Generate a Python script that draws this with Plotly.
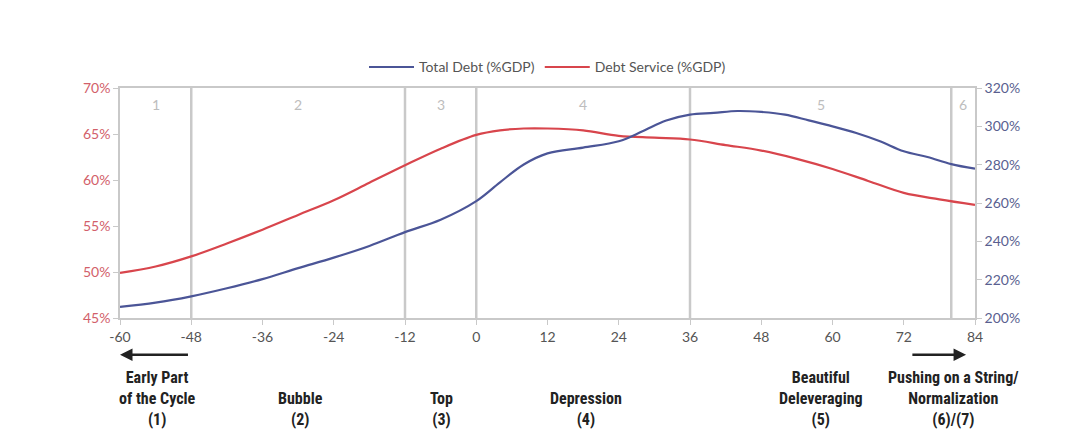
import plotly.graph_objects as go

# months relative to the top of the cycle
months_service = [-60, -54, -48, -42, -36, -30, -24, -18, -12, -6, 0, 4, 8, 12, 18, 24, 30,
                  36, 42, 48, 54, 60, 66, 72, 78, 84]
debt_service = [49.9, 50.6, 51.7, 53.1, 54.6, 56.2, 57.8, 59.7, 61.6, 63.4, 64.9, 65.4, 65.6,
                65.6, 65.4, 64.8, 64.6, 64.4, 63.8, 63.2, 62.3, 61.2, 59.9, 58.6, 57.9, 57.3]

months_debt = [-60, -54, -48, -42, -36, -30, -24, -18, -12, -6, 0, 4, 8, 12, 18,
               24, 28, 32, 36, 40, 44, 48, 52, 56, 60, 64, 68, 72, 76, 80, 84]
total_debt = [205.8, 208.0, 211.3, 215.5, 220.3, 226.0, 231.5, 237.6, 244.8, 251.3, 261.0,
              270.8, 280.1, 285.9, 288.9, 292.2, 297.4, 303.0, 306.1, 307.0, 308.0, 307.5,
              306.1, 303.1, 300.0, 296.5, 292.2, 287.0, 284.0, 280.3, 277.9]

phase_bounds = [-48, -12, 0, 36, 80]
phase_nums = ["1", "2", "3", "4", "5", "6"]
phase_num_x = [-54, -30, -6, 18, 58, 82]

phase_labels = ["Early Part<br>of the Cycle<br>(1)", "Bubble<br>(2)", "Top<br>(3)",
                "Depression<br>(4)", "Beautiful<br>Deleveraging<br>(5)",
                "Pushing on a String/<br>Normalization<br>(6)/(7)"]
phase_label_x = [-53.7, -29.6, -5.9, 18.4, 58, 80.4]

x_ticks = list(range(-60, 85, 12))
x_ticktext = [str(v) for v in x_ticks]

BLUE = "#4b5597"
RED = "#d8454c"
GRID = "#c9c9c9"

fig = go.Figure()
fig.add_trace(go.Scatter(x=months_debt, y=total_debt, name="Total Debt (%GDP)", yaxis="y2",
                         mode="lines", line=dict(color=BLUE, width=2.2, shape="spline")))
fig.add_trace(go.Scatter(x=months_service, y=debt_service, name="Debt Service (%GDP)",
                         mode="lines", line=dict(color=RED, width=2.2, shape="spline")))

for b in phase_bounds:
    fig.add_shape(type="line", xref="x", yref="paper", x0=b, x1=b, y0=0, y1=1,
                  line=dict(color=GRID, width=2.5), layer="below")

for n, xx in zip(phase_nums, phase_num_x):
    fig.add_annotation(x=xx, y=0.975, xref="x", yref="paper", text=n, showarrow=False,
                       yanchor="top", font=dict(size=14, color="#bdbdbd"))

for t, xx in zip(phase_labels, phase_label_x):
    fig.add_annotation(x=xx, y=-0.493, xref="x", yref="paper", text="<b>" + t + "</b>",
                       showarrow=False, yanchor="bottom", align="center",
                       font=dict(size=16, color="#222222",
                                 family="Liberation Sans Narrow, Roboto Condensed, Arial Narrow, sans-serif"))

# direction arrows under the axis
fig.add_annotation(x=-60, y=-0.16, xref="x", yref="paper", ax=-48.3, ay=0, axref="x",
                   ayref="pixel", showarrow=True, arrowhead=2, arrowsize=1, arrowwidth=2.5,
                   arrowcolor="#222222", text="")
fig.add_annotation(x=82.5, y=-0.16, xref="x", yref="paper", ax=73.2, ay=0, axref="x",
                   ayref="pixel", showarrow=True, arrowhead=2, arrowsize=1, arrowwidth=2.5,
                   arrowcolor="#222222", text="")

fig.update_layout(
    width=1072, height=427,
    margin=dict(l=112, r=105, t=80, b=117),
    paper_bgcolor="white", plot_bgcolor="white",
    font=dict(family="Lato, Open Sans, sans-serif", size=14, color="#555555"),
    showlegend=True,
    legend=dict(orientation="h", x=0.5, xanchor="center", y=1.02, yanchor="bottom",
                font=dict(size=14, color="#555555"), traceorder="normal", itemwidth=45),
    xaxis=dict(range=[-60, 84], tickvals=x_ticks, ticktext=x_ticktext, showgrid=False,
               zeroline=False, showline=True, linecolor=GRID, linewidth=1.5, mirror=True,
               ticks="outside", ticklen=5, tickcolor=GRID, tickfont=dict(color="#555555")),
    yaxis=dict(range=[45, 70], dtick=5, ticksuffix="%", showgrid=False, zeroline=False,
               showline=True, linecolor=GRID, linewidth=1.5, ticks="outside", ticklen=5,
               tickcolor=GRID, tickfont=dict(color="#d2606a")),
    yaxis2=dict(range=[200, 320], dtick=20, ticksuffix="%", overlaying="y", side="right",
                showgrid=False, zeroline=False, showline=True, linecolor=GRID, linewidth=1.5,
                ticks="outside", ticklen=5, tickcolor=GRID, tickfont=dict(color="#5a5f90")),
)

fig.write_html("out.html")
